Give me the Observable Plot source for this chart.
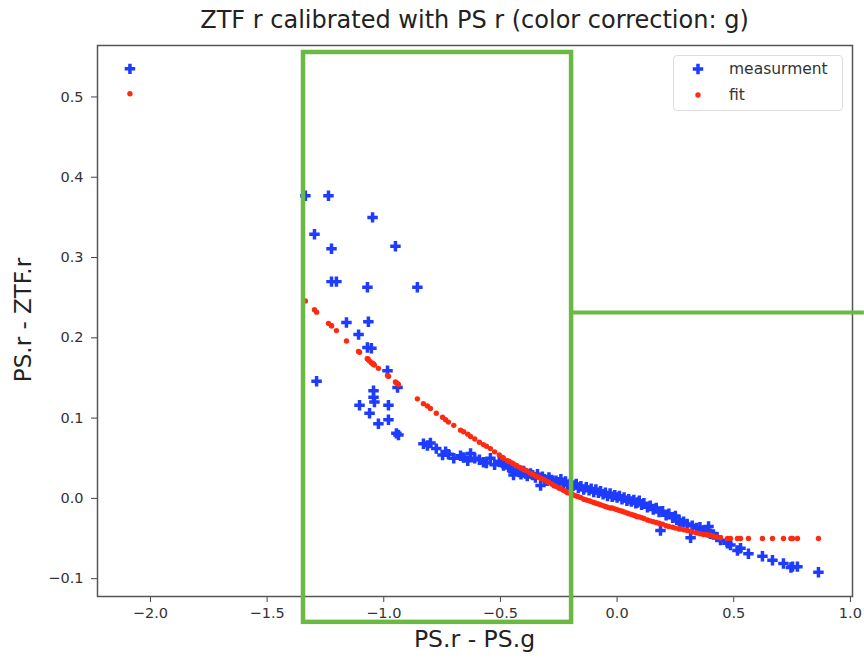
<!DOCTYPE html>
<html>
<head>
<meta charset="utf-8">
<script src="https://cdn.jsdelivr.net/npm/d3@7"></script>
<script src="https://cdn.jsdelivr.net/npm/@observablehq/plot@0.6"></script>
<style>
  html, body { margin: 0; padding: 0; background: #fff; }
  #wrap { position: relative; width: 864px; height: 662px; font-family: "DejaVu Sans", sans-serif; }
  .title { position: absolute; left: 97px; width: 755px; top: 3px; text-align: center; font-size: 24px; line-height: 34px; color: #222; }
  .xlabel { position: absolute; left: 97px; width: 755px; top: 622px; text-align: center; font-size: 23.5px; line-height: 34px; color: #222; }
  .ylabel { position: absolute; left: 23px; top: 320px; transform: translate(-50%, -50%) rotate(-90deg); white-space: nowrap; font-size: 23px; line-height: 32px; color: #222; }
  .legend { position: absolute; left: 673px; top: 55px; width: 168px; height: 54px; border: 1px solid #ddd; border-radius: 4px; background: rgba(255,255,255,0.8); font-size: 15.5px; color: #333; }
  .legend .row { position: absolute; left: 0; height: 20px; line-height: 20px; }
  .legend svg { position: absolute; left: 14px; top: 0; }
  .legend span { position: absolute; left: 55px; top: 0; white-space: nowrap; }
</style>
</head>
<body>
<div id="wrap">
  <div class="title">ZTF r calibrated with PS r (color correction: g)</div>
  <div class="xlabel">PS.r - PS.g</div>
  <div class="ylabel">PS.r - ZTF.r</div>
  <div id="chart"></div>
  <div class="legend">
    <div class="row" style="top:3px"><svg width="20" height="20" id="legBlue"></svg><span>measurment</span></div>
    <div class="row" style="top:29px"><svg width="20" height="20" id="legRed"></svg><span>fit</span></div>
  </div>
</div>
<script>
// ---- data ----
const colorIndex = [
  -2.088,
  -1.336, -1.297, -1.288, -1.237, -1.224, -1.224, -1.203, -1.160, -1.108, -1.104,
  -1.070, -1.070, -1.066, -1.061, -1.053, -1.048, -1.044, -1.044, -1.040, -1.023,
  -0.984, -0.980, -0.980, -0.950, -0.946, -0.941, -0.937, -0.856, -0.830, -0.813, -0.800,
  -0.775, -0.748, -0.735, -0.723, -0.700, -0.671, -0.658, -0.640, -0.628, -0.610,
  -0.590, -0.573, -0.560, -0.543, -0.525,
  -0.505, -0.491, -0.487, -0.470, -0.462, -0.450, -0.444, -0.431, -0.420, -0.412,
  -0.401, -0.392, -0.385, -0.371, -0.362, -0.350, -0.341, -0.328, -0.320, -0.311,
  -0.300, -0.292, -0.280, -0.271, -0.262, -0.250, -0.241, -0.230, -0.221, -0.213,
  -0.200, -0.192, -0.187, -0.175, -0.166, -0.155, -0.143, -0.132, -0.120, -0.111,
  -0.100, -0.091, -0.080, -0.071, -0.060, -0.050, -0.041, -0.030, -0.021, -0.010,
  0.000, 0.010, 0.021, 0.030, 0.042, 0.050, 0.061, 0.072, 0.080, 0.087,
  0.095, 0.105, 0.115, 0.130, 0.142, 0.155, 0.168, 0.180, 0.186, 0.195,
  0.210, 0.222, 0.238, 0.250, 0.266, 0.270, 0.285, 0.300, 0.315, 0.322,
  0.340, 0.355, 0.370, 0.385, 0.392, 0.400, 0.413, 0.428, 0.443,
  0.473, 0.486, 0.516, 0.529, 0.563, 0.623, 0.666, 0.713, 0.745, 0.752, 0.773, 0.863
];
const measurement = [
  0.535,
  0.377, 0.329, 0.146, 0.377, 0.311, 0.270, 0.270, 0.219, 0.204, 0.116,
  0.263, 0.188, 0.220, 0.106, 0.187, 0.350, 0.134, 0.126, 0.120, 0.093,
  0.159, 0.116, 0.098, 0.314, 0.081, 0.138, 0.079, 0.263, 0.068, 0.066, 0.069,
  0.062, 0.054, 0.058, 0.055, 0.050, 0.053, 0.051, 0.047, 0.056, 0.050,
  0.048, 0.045, 0.044, 0.050, 0.042,
  0.046, 0.044, 0.041, 0.043, 0.038, 0.035, 0.029, 0.036, 0.033, 0.030,
  0.034, 0.031, 0.028, 0.031, 0.029, 0.026, 0.030, 0.016, 0.027, 0.024,
  0.022, 0.026, 0.023, 0.019, 0.022, 0.020, 0.024, 0.018, 0.021, 0.017,
  0.019, 0.015, 0.016, 0.018, 0.013, 0.015, 0.011, 0.014, 0.010, 0.012,
  0.008, 0.011, 0.007, 0.009, 0.005, 0.007, 0.003, 0.006, 0.002, 0.004,
  0.001, 0.003, -0.001, 0.001, -0.003, -0.001, -0.004, -0.002, -0.006, -0.005,
  -0.003, -0.008, -0.006, -0.011, -0.009, -0.014, -0.012, -0.017, -0.040, -0.016,
  -0.021, -0.019, -0.024, -0.022, -0.028, -0.031, -0.029, -0.032, -0.049, -0.034,
  -0.037, -0.036, -0.040, -0.042, -0.035, -0.044, -0.045, -0.048, -0.052,
  -0.056, -0.058, -0.065, -0.062, -0.069, -0.072, -0.077, -0.081, -0.086, -0.085, -0.085, -0.092
];
const fit = [
  0.504,
  0.246, 0.235, 0.232, 0.218, 0.215, 0.215, 0.209, 0.196, 0.183, 0.182,
  0.174, 0.174, 0.173, 0.171, 0.169, 0.168, 0.167, 0.167, 0.166, 0.162,
  0.153, 0.152, 0.152, 0.145, 0.144, 0.143, 0.142, 0.124, 0.118, 0.115, 0.112,
  0.106, 0.101, 0.098, 0.095, 0.091, 0.085, 0.083, 0.080, 0.077, 0.074,
  0.070, 0.067, 0.065, 0.062, 0.058,
  0.054, 0.051, 0.050, 0.047, 0.046, 0.044, 0.043, 0.041, 0.039, 0.038,
  0.036, 0.035, 0.034, 0.031, 0.030, 0.028, 0.027, 0.025, 0.024, 0.023,
  0.021, 0.020, 0.018, 0.016, 0.015, 0.013, 0.012, 0.010, 0.009, 0.007,
  0.006, 0.005, 0.004, 0.003, 0.002, 0.001, -0.001, -0.002, -0.003, -0.004,
  -0.005, -0.006, -0.007, -0.008, -0.009, -0.010, -0.011, -0.012, -0.012, -0.013,
  -0.014, -0.015, -0.016, -0.017, -0.018, -0.019, -0.020, -0.021, -0.022, -0.023,
  -0.023, -0.024, -0.025, -0.027, -0.028, -0.029, -0.030, -0.031, -0.032, -0.032,
  -0.034, -0.035, -0.036, -0.037, -0.038, -0.038, -0.039, -0.040, -0.041, -0.042,
  -0.043, -0.044, -0.045, -0.045, -0.046, -0.046, -0.047, -0.048, -0.049,
  -0.050, -0.050, -0.050, -0.050, -0.050, -0.050, -0.050, -0.050, -0.050, -0.050, -0.050, -0.050
];
const xTicks = [-2.0, -1.5, -1.0, -0.5, 0.0, 0.5, 1.0];
const yTicks = [-0.1, 0.0, 0.1, 0.2, 0.3, 0.4, 0.5];
const xDomain = [-2.227, 1.009];
const yDomain = [-0.1222, 0.5641];
// green highlight annotation (data units)
const boxX = [-1.344, -0.195];
const boxY = [-0.1544, 0.5554];
const lineY = [0.2316];
const lineX = [-0.195, 1.06];

const rows = colorIndex.map((x, i) => ({x, m: measurement[i], f: fit[i]}));
const fmt = d3.format(".1f");
const BLUE = "#1d3cff", RED = "#ff2a10", GREEN = "#6ab942";

const chart = Plot.plot({
  width: 864, height: 662,
  marginTop: 45, marginRight: 12, marginBottom: 66, marginLeft: 97,
  style: {fontFamily: "DejaVu Sans, sans-serif", color: "#333", background: "#fff"},
  x: {domain: xDomain, ticks: xTicks, tickFormat: fmt, label: null},
  y: {domain: yDomain, ticks: yTicks, tickFormat: fmt, label: null},
  marks: [
    Plot.axisX({ticks: xTicks, tickFormat: fmt, tickSize: 6, tickPadding: 5, fontSize: 14.5, stroke: "#444", label: null}),
    Plot.axisY({ticks: yTicks, tickFormat: fmt, tickSize: 6, tickPadding: 8, fontSize: 14.5, stroke: "#444", label: null}),
    Plot.frame({stroke: "#555", strokeWidth: 1.5}),
    Plot.dot(rows, {x: "x", y: "m", symbol: "cross", r: 4.4, fill: BLUE, stroke: null}),
    Plot.dot(rows, {x: "x", y: "f", r: 2.7, fill: RED, stroke: null}),
    Plot.rect([{x1: boxX[0], x2: boxX[1], y1: boxY[0], y2: boxY[1]}], {x1: "x1", x2: "x2", y1: "y1", y2: "y2", fill: "none", stroke: GREEN, strokeWidth: 4.5}),
    Plot.ruleY(lineY, {x1: lineX[0], x2: lineX[1], stroke: GREEN, strokeWidth: 4})
  ]
});
document.getElementById("chart").appendChild(chart);

// legend symbols drawn with d3 symbol generators
d3.select("#legBlue").append("path").attr("transform", "translate(10,10)")
  .attr("d", d3.symbol(d3.symbolCross, Math.PI * 4.4 * 4.4)()).attr("fill", BLUE);
d3.select("#legRed").append("circle").attr("cx", 10).attr("cy", 10).attr("r", 2.7).attr("fill", RED);
</script>
</body>
</html>
